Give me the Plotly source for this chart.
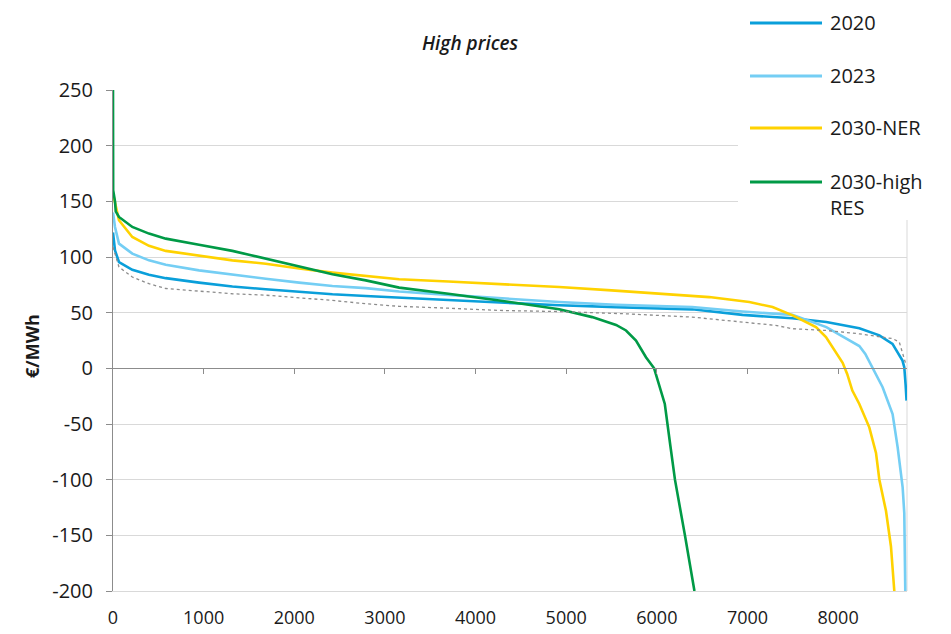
import plotly.graph_objects as go

# ---------------- data ----------------
title_text = "High prices"
y_title = "€/MWh"
x_ticks = [0, 1000, 2000, 3000, 4000, 5000, 6000, 7000, 8000]
y_ticks = [-200, -150, -100, -50, 0, 50, 100, 150, 200, 250]

names = ["2020", "2023", "2030-NER", "2030-high<br>RES"]

h_2020 = [0, 22, 66, 213, 397, 582, 949, 1317, 1685, 2053, 2421, 2789, 3157, 3700,
          4260, 4923, 5550, 6390, 6945, 7494, 7870, 8234, 8455, 8600, 8710, 8730, 8745, 8755]
v_2020 = [122, 106, 95.5, 88.5, 84, 81, 77, 73.5, 71, 68.7, 66.5, 65, 63.5, 61,
          59, 56.6, 55, 53, 48, 45, 41.6, 36, 29.6, 22, 7, 1, -15, -29]

h_2023 = [0, 22, 66, 213, 397, 582, 949, 1317, 1685, 2053, 2421, 2789, 3157, 3700,
          4260, 4923, 5550, 6390, 6945, 7494, 7870, 8234, 8300, 8380, 8491, 8601, 8657,
          8712, 8730, 8741]
v_2023 = [140, 127, 112, 103, 97, 93, 88, 84, 80.5, 77, 74, 72, 69, 66,
          63, 59.6, 57, 55, 51, 48, 37, 20, 13, 0, -17, -41, -71,
          -107, -130, -200]

h_ner = [0, 22, 66, 213, 397, 582, 949, 1317, 1685, 2053, 2421, 2789, 3157, 3700,
         4260, 4923, 5500, 6026, 6578, 7020, 7277, 7498, 7756, 7866, 7940, 8050, 8100,
         8157, 8234, 8344, 8418, 8455, 8528, 8583, 8620]
v_ner = [157, 148, 133, 118, 110, 105.5, 101, 97, 94, 89.6, 86, 82.7, 80, 78,
         76, 73, 70, 67, 64, 59.6, 55, 47.6, 37, 28, 19, 5, -5,
         -20, -32, -53, -76, -100, -128, -160, -200]

h_res = [0, 2, 22, 30, 66, 213, 397, 582, 949, 1140, 1317, 1500, 1685, 2053, 2421, 2789,
         3157, 3700, 4260, 4923, 5287, 5550, 5660, 5770, 5880, 5970, 6033, 6088, 6150,
         6200, 6310, 6415]
v_res = [250, 160, 150, 141, 136, 127, 121, 116.5, 111, 108.5, 105.5, 102, 98.5, 91,
         84.5, 79, 72.5, 67, 61, 53, 46, 39, 34, 25, 10, 0, -17, -32, -70, -100,
         -150, -200]

h_ref = [0, 66, 213, 397, 582, 949, 1317, 1685, 2053, 2421, 2789, 3157, 3700, 4260,
         4923, 5660, 6390, 7310, 7494, 7870, 8234, 8600, 8675, 8730, 8750]
v_ref = [109, 91, 82, 76, 71.7, 69.6, 67, 65.7, 63.5, 61, 58, 55.7, 54, 52,
         51, 49, 46, 38.6, 35.6, 34, 31, 26.7, 23.6, 10, 3]

colors = ["#0A9FDA", "#74CEF4", "#FFD200", "#009A46"]

# ---------------- layout geometry ----------------
W, H = 951, 634
L, R, T, B = 113, 44, 90, 43
PW, PH = W - L - R, H - T - B


def px(xp):
    return (xp - L) / PW


def py(yp):
    return (H - B - yp) / PH


FONT = "Open Sans"
TXT = "#1a1a1a"

fig = go.Figure()

series = [(h_2020, v_2020), (h_2023, v_2023), (h_ner, v_ner), (h_res, v_res)]

# reference (dotted gray) curve drawn first, assigned to the zero-line axis
fig.add_trace(go.Scatter(x=h_ref, y=v_ref, mode="lines", xaxis="x2", yaxis="y",
                         line=dict(color="#8c8c8c", width=1.3, dash="dot"),
                         showlegend=False, hoverinfo="skip"))
for (hx, vy), nm, c in zip(series, names, colors):
    fig.add_trace(go.Scatter(x=hx, y=vy, mode="lines", name=nm.replace("<br>", " "),
                             line=dict(color=c, width=2.6), showlegend=False))

shapes = []
# right border of plot area
shapes.append(dict(type="line", xref="x domain", yref="y domain", x0=1, x1=1, y0=0, y1=1,
                   line=dict(color="#d9d9d9", width=1), layer="below"))
# legend background box
shapes.append(dict(type="rect", xref="paper", yref="paper",
                   x0=px(738), x1=px(W + 5), y0=py(220), y1=py(-5),
                   fillcolor="white", line=dict(width=0), layer="above"))

annotations = []
leg_y = [23, 76, 128, 182]
for nm, c, yy in zip(names, colors, leg_y):
    shapes.append(dict(type="line", xref="paper", yref="paper",
                       x0=px(750), x1=px(822), y0=py(yy), y1=py(yy),
                       line=dict(color=c, width=3), layer="above"))
    annotations.append(dict(text=nm, xref="paper", yref="paper", x=px(828),
                            y=py(yy - 16), xanchor="left", yanchor="top", align="left",
                            showarrow=False, font=dict(family=FONT, size=20, color=TXT)))

# title
annotations.append(dict(text=title_text, xref="paper", yref="paper", x=px(470), y=py(43),
                        xanchor="center", yanchor="middle", showarrow=False,
                        font=dict(family=FONT, size=19, color=TXT, style="italic",
                                  weight=600)))
# y-axis title
annotations.append(dict(text=y_title, xref="paper", yref="paper", x=px(32), y=py(346),
                        xanchor="center", yanchor="middle", textangle=-90, showarrow=False,
                        font=dict(family=FONT, size=18, color=TXT, weight="bold")))

fig.update_layout(
    width=W, height=H,
    margin=dict(l=L, r=R, t=T, b=B, pad=0, autoexpand=False),
    paper_bgcolor="white", plot_bgcolor="white",
    showlegend=False,
    xaxis=dict(range=[0, 8760], tickvals=x_ticks, ticktext=[str(v) for v in x_ticks],
               ticks="", showgrid=False, automargin=False,
               zeroline=False, showline=True, linecolor="#d9d9d9", linewidth=1,
               tickfont=dict(family=FONT, size=18, color=TXT), ticklabelstandoff=10),
    xaxis2=dict(range=[0, 8760], overlaying="x", anchor="free", side="bottom",
                position=(0 - y_ticks[0]) / (y_ticks[-1] - y_ticks[0]), automargin=False,
                tickvals=x_ticks[1:], ticks="outside", ticklen=5, tickcolor="#8c8c8c",
                tickwidth=1, showticklabels=False, showgrid=False, zeroline=False,
                showline=True, linecolor="#8c8c8c", linewidth=1),
    yaxis=dict(range=[y_ticks[0], y_ticks[-1]], tickvals=y_ticks, automargin=False,
               ticktext=[str(v) for v in y_ticks], ticks="outside",
               ticklen=6, tickcolor="#8c8c8c", showgrid=True, gridcolor="#d9d9d9",
               gridwidth=1, zeroline=False, showline=True, linecolor="#8c8c8c",
               linewidth=1, tickfont=dict(family=FONT, size=20, color=TXT),
               ticklabelstandoff=9),
    shapes=shapes,
    annotations=annotations,
)

fig.write_html("out.html", config={"displayModeBar": False},
               post_script="document.body.style.margin='0px';"
                           "document.body.style.padding='0px';")
